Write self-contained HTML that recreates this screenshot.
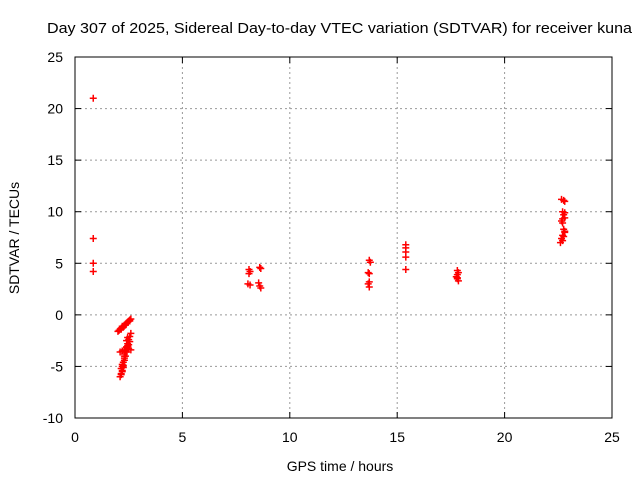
<!DOCTYPE html>
<html><head><meta charset="utf-8"><style>
body{margin:0;background:#fff;}
svg{display:block;font-family:"Liberation Sans",sans-serif;}
</style></head><body>
<svg id="chart" width="640" height="480">
<text x="47" y="33" font-size="15" textLength="585" lengthAdjust="spacingAndGlyphs">Day 307 of 2025, Sidereal Day-to-day VTEC variation (SDTVAR) for receiver kuna</text>
<text x="340" y="471" text-anchor="middle" font-size="14">GPS time / hours</text>
<text x="19" y="238" text-anchor="middle" font-size="14" transform="rotate(-90 19 238)">SDTVAR / TECUs</text>
<g id="grid"></g><g id="ticks"></g><g id="pts"></g>
<rect x="75" y="57" width="537" height="361" fill="none" stroke="#000"/>
</svg>
<script>
const xTicks=[0,5,10,15,20,25];
const yTicks=[-10,-5,0,5,10,15,20,25];
const xs=[0.85,0.85,0.85,0.85,
2.0,2.1,2.15,2.2,2.3,2.35,2.4,2.5,2.55,2.6,2.05,2.25,2.45,2.15,2.35,2.55,
2.1,2.15,2.2,2.2,2.25,2.3,2.3,2.35,2.4,2.45,2.5,2.55,2.6,2.1,2.2,2.3,2.4,2.5,2.6,2.15,2.25,2.35,2.45,2.55,2.2,2.3,2.4,2.2,2.3,2.4,2.5,2.15,2.25,2.35,2.45,
8.1,8.15,8.1,8.05,8.15,8.6,8.65,8.55,8.6,8.65,
13.7,13.75,13.65,13.7,13.7,13.65,13.7,
15.4,15.4,15.4,15.4,15.4,
17.8,17.85,17.8,17.75,17.8,17.85,17.8,
22.65,22.75,22.8,22.7,22.75,22.8,22.65,22.7,22.75,22.8,22.7,22.65,22.7,22.6,22.75,22.8,22.7,22.8];
const ys=[21.0,7.4,5.0,4.2,
-1.6,-1.4,-1.3,-1.1,-1.0,-0.9,-0.8,-0.6,-0.5,-0.4,-1.5,-1.2,-0.7,-1.4,-1.0,-0.6,
-6.0,-5.7,-5.4,-5.0,-4.6,-4.2,-3.8,-3.5,-3.1,-2.8,-2.4,-2.1,-1.8,-3.6,-3.5,-3.4,-3.6,-3.3,-3.4,-5.2,-4.9,-4.0,-3.0,-2.6,-5.5,-4.4,-2.5,-4.8,-4.0,-3.2,-2.9,-5.8,-5.1,-3.6,-2.2,
4.4,4.2,4.0,3.0,2.9,4.6,4.5,3.1,2.8,2.6,
5.3,5.1,4.1,4.0,3.2,3.0,2.7,
6.8,6.5,6.1,5.6,4.4,
4.3,4.1,3.9,3.7,3.5,3.3,3.6,
11.2,11.1,11.0,10.0,9.7,9.4,9.1,8.9,8.3,8.0,7.7,7.4,7.2,7.0,7.6,8.1,9.3,9.9];
const X=v=>75+v*(537/25), Y=v=>418-(v+10)*(361/35);
const NS="http://www.w3.org/2000/svg";
const grid=document.getElementById('grid'),ticks=document.getElementById('ticks'),pts=document.getElementById('pts');
function mk(tag,at,par){const e=document.createElementNS(NS,tag);for(const k in at)e.setAttribute(k,at[k]);par.appendChild(e);return e;}
xTicks.forEach(t=>{const x=X(t);
if(t>0&&t<25){const g=mk('line',{x1:x,x2:x,y1:57,y2:418,stroke:'#999','stroke-dasharray':'2,3'},grid);

}
const l=mk('text',{x:x,y:442,'text-anchor':'middle','font-size':14},ticks);l.textContent=t;


mk('line',{x1:x,x2:x,y1:418,y2:412,stroke:'#000'},ticks);mk('line',{x1:x,x2:x,y1:57,y2:63,stroke:'#000'},ticks);});
yTicks.forEach(t=>{const y=Y(t);
if(t>-10&&t<25){const g=mk('line',{x1:75,x2:612,y1:y,y2:y,stroke:'#999','stroke-dasharray':'2,3'},grid);

}
const l=mk('text',{x:63,y:y+5,'text-anchor':'end','font-size':14},ticks);l.textContent=t;


mk('line',{x1:75,x2:81,y1:y,y2:y,stroke:'#000'},ticks);mk('line',{x1:612,x2:606,y1:y,y2:y,stroke:'#000'},ticks);});
xs.forEach((v,i)=>{const x=X(v),y=Y(ys[i]);
const p=mk('path',{d:`M${x-3.5},${y}H${x+3.5}M${x},${y-3.5}V${y+3.5}`,stroke:'#f00','stroke-width':1.5},pts);

});
</script>
</body></html>
